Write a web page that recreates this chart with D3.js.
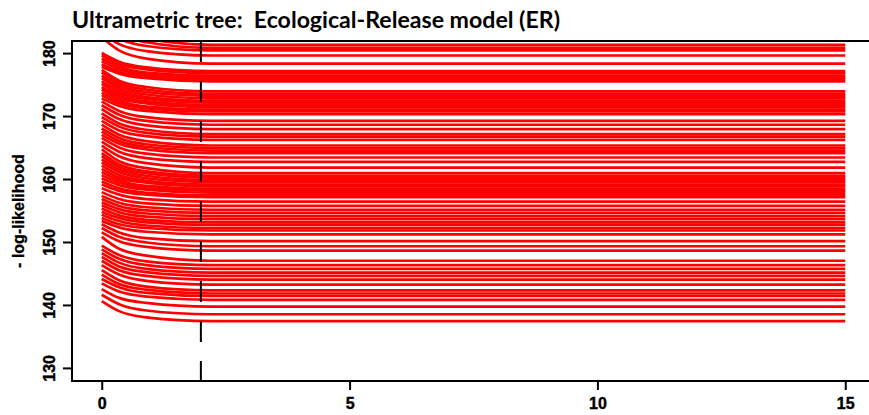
<!DOCTYPE html>
<html><head><meta charset="utf-8">
<script src="https://cdn.jsdelivr.net/npm/d3@7"></script>
<style>body{margin:0;background:#fff;} svg{display:block;}</style>
</head><body>
<svg id="chart" width="869" height="415"></svg>
<script>
// knot positions along the x axis for each run
const knotX = [0, 0.35, 0.9, 2.2, 15];
// -log-likelihood of each run: at start, at x≈0.35, at x≈0.9, and plateau
const startLL = [186.5,185.3,184.2,183.3,182.6,180.1,179.7,179.2,178.8,178.3,177.9,177.4,177.0,176.5,176.1,175.6,175.2,174.7,174.3,173.8,173.4,172.9,172.4,171.8,171.2,170.5,169.9,169.3,168.7,168.1,167.6,167.1,166.6,166.0,165.4,164.8,164.2,163.7,163.2,162.7,162.2,161.7,161.2,160.7,160.2,159.7,159.2,158.6,158.0,157.4,156.9,156.4,155.9,155.4,154.9,154.4,153.9,153.4,152.9,152.3,151.6,150.9,149.5,148.9,148.3,147.7,147.1,146.4,145.6,144.9,144.2,143.5,142.6,141.7,140.7];
const early = [184.0,183.1,182.4,181.5,180.5,178.7,178.3,177.9,177.5,177.1,176.8,175.7,175.3,174.9,174.5,174.1,173.7,173.3,172.9,172.5,172.1,171.7,170.9,170.3,169.6,168.9,168.4,167.8,167.1,166.6,166.1,165.7,165.1,164.4,163.7,162.9,162.4,162.0,161.6,161.2,160.7,160.3,159.9,159.5,159.1,158.6,158.2,157.6,156.9,156.3,155.8,155.3,154.8,154.3,153.9,153.4,152.9,152.4,151.6,150.9,150.2,149.0,148.0,147.4,146.8,146.2,145.6,144.9,144.0,143.4,142.9,142.2,141.2,140.2,139.1];
const late = [182.4,181.8,181.2,180.4,179.2,177.8,177.5,177.0,176.7,176.4,176.1,174.7,174.3,173.9,173.5,173.1,172.8,172.4,172.1,171.6,171.3,170.9,169.9,169.3,168.6,167.9,167.4,166.9,166.1,165.6,165.2,164.8,164.1,163.4,162.6,161.8,161.3,161.0,160.6,160.2,159.8,159.5,159.0,158.7,158.4,157.9,157.6,156.9,156.2,155.6,155.1,154.6,154.1,153.6,153.2,152.7,152.3,151.7,150.7,150.0,149.3,147.9,147.0,146.4,145.8,145.3,144.7,143.9,143.0,142.5,142.0,141.4,140.4,139.2,138.1];
const plateauLL = [181.4,180.9,180.5,179.7,178.4,177.2,176.9,176.5,176.2,175.9,175.6,174.0,173.6,173.3,172.9,172.5,172.2,171.8,171.5,171.1,170.8,170.4,169.3,168.7,168.0,167.2,166.8,166.3,165.4,165.0,164.6,164.2,163.5,162.8,161.9,161.0,160.6,160.3,159.9,159.6,159.2,158.9,158.5,158.2,157.9,157.5,157.2,156.5,155.8,155.2,154.7,154.2,153.7,153.2,152.8,152.3,151.9,151.3,150.2,149.4,148.7,147.1,146.4,145.8,145.2,144.7,144.1,143.3,142.4,141.9,141.5,140.9,139.8,138.6,137.5];
const xTicks = [0, 5, 10, 15];
const yTicks = [130, 140, 150, 160, 170, 180];
const cutoffX = 2;
const titleText = "Ultrametric tree:  Ecological-Release model (ER)";
const yLabel = "- log-likelihood";

const FONT = "Arial, 'Liberation Sans', Helvetica, sans-serif";
const svg = d3.select("#chart");
const L = 72, R = 875, T = 41, B = 381;
const x = d3.scaleLinear().domain([-0.6, 15.6]).range([L, R]);
const y = d3.scaleLinear().domain([128, 182]).range([B, T]);

svg.append("defs").append("clipPath").attr("id", "clip")
  .append("rect").attr("x", L).attr("y", T).attr("width", R - L).attr("height", B - T);

const runs = startLL.map((s, i) => [
  [knotX[0], s], [knotX[1], early[i]], [knotX[2], late[i]],
  [knotX[3], plateauLL[i]], [knotX[4], plateauLL[i]]
]);
const line = d3.line().x(d => x(d[0])).y(d => y(d[1])).curve(d3.curveMonotoneX);

svg.append("g").attr("clip-path", "url(#clip)")
  .selectAll("path").data(runs).join("path")
  .attr("d", line).attr("fill", "none")
  .attr("stroke", "#ff0000").attr("stroke-width", 2.7);

// dashed vertical line
svg.append("line").attr("x1", x(cutoffX)).attr("x2", x(cutoffX))
  .attr("y1", T).attr("y2", B).attr("stroke", "#000")
  .attr("stroke-width", 2).attr("stroke-dasharray", "21,19");

// box
svg.append("rect").attr("x", L).attr("y", T).attr("width", R - L).attr("height", B - T)
  .attr("fill", "none").attr("stroke", "#000").attr("stroke-width", 2);

// axes
const xAxis = d3.axisBottom(x).tickValues(xTicks).tickSize(9).tickPadding(8);
const gx = svg.append("g").attr("transform", `translate(0,${B})`).call(xAxis);
gx.attr("font-family", FONT).attr("font-size", 16).attr("font-weight", "bold");
gx.select(".domain").remove();
gx.selectAll("line").attr("stroke-width", 2);
gx.selectAll("text").style("font-family", FONT).style("font-weight", "700")
  .style("font-size", "16px").attr("fill", "#000")
  .attr("stroke", "#000").attr("stroke-width", 0.4);

const yAxis = d3.axisLeft(y).tickValues(yTicks).tickSize(9).tickPadding(6);
const gy = svg.append("g").attr("transform", `translate(${L},0)`).call(yAxis);
gy.attr("font-family", FONT).attr("font-size", 16).attr("font-weight", "bold");
gy.select(".domain").remove();
gy.selectAll(".tick").attr("transform", null);
gy.selectAll(".tick line").attr("stroke-width", 2)
  .attr("y1", d => y(d)).attr("y2", d => y(d)).attr("x2", -9);
gy.selectAll(".tick text")
  .style("font-family", FONT).style("font-weight", "700").style("font-size", "16px")
  .attr("fill", "#000").attr("stroke", "#000").attr("stroke-width", 0.4)
  .attr("text-anchor", "middle").attr("x", 0).attr("y", 0).attr("dy", "0.35em")
  .attr("transform", d => `translate(-23,${y(d)}) rotate(-90)`);

// y label
svg.append("text").attr("transform", `translate(24,${(T + B) / 2}) rotate(-90)`)
  .attr("text-anchor", "middle")
  .style("font-family", FONT).style("font-weight", "700").style("font-size", "16px")
  .attr("fill", "#000").attr("stroke", "#000").attr("stroke-width", 0.3).text(yLabel);

// title
svg.append("text").attr("x", 72).attr("y", 28)
  .style("font-family", "Lato, 'Open Sans', sans-serif").style("font-weight", "700")
  .style("font-size", "23px").style("white-space", "pre")
  .attr("fill", "#000")
  .attr("textLength", 488).attr("lengthAdjust", "spacingAndGlyphs").text(titleText);
</script>
</body></html>
